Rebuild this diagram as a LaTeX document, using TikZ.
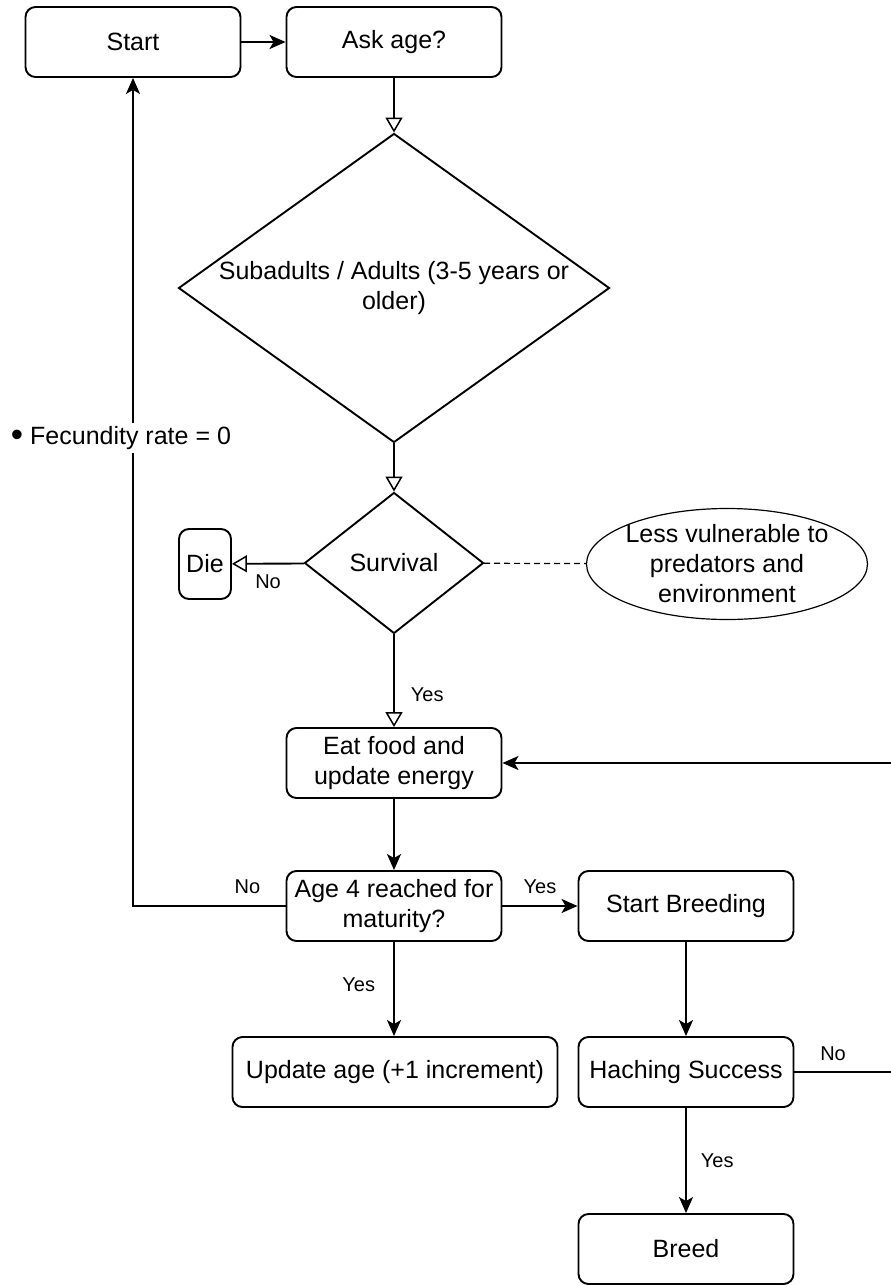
\documentclass[tikz,border=0pt]{standalone}
\usepackage{fontspec}
\setmainfont{Liberation Sans}
\usetikzlibrary{arrows.meta,shapes.geometric}

\tikzset{
  box/.style={draw,rounded corners=10pt,minimum width=215pt,minimum height=70pt,
    inner sep=4pt,align=center,font=\fontsize{25}{30}\selectfont},
  decision/.style={draw,diamond,inner sep=0pt,align=center,font=\fontsize{25}{30}\selectfont},
  note/.style={draw,ellipse,line width=1.2pt,minimum width=281pt,minimum height=111pt,
    inner sep=-4pt,align=center,font=\fontsize{25}{30}\selectfont},
  lbl/.style={inner sep=2pt,font=\fontsize{20}{23}\selectfont},
  arr/.style={-{Stealth[length=16pt,width=14pt,inset=4pt]}},
  oarr/.style={-{Triangle[open,length=15pt,width=17pt,line width=1.5pt]}}
}

\begin{document}
\begin{tikzpicture}[x=1pt,y=-1pt,line width=1.9pt]
        \useasboundingbox (0,0) rectangle (891,1285);

        \node[box] (start) at (133,42) {Start};
        \node[box] (ask) at (394,42) {Ask age?};
        \node[decision,shape aspect=1.39,minimum width=431pt,minimum height=309pt] (adult) at (394,288) {Subadults / Adults (3-5 years or\\older)};
        \node[decision,shape aspect=1.27,minimum width=179pt,minimum height=141pt] (surv) at (394,563) {Survival};
        \node[box,minimum width=52pt] (die) at (205,564) {Die};
        \node[note] (less) at (727,564) {Less vulnerable to\\predators and\\environment};
        \node[box] (eat) at (394,763) {Eat food and\\update energy};
        \node[box] (mature) at (394,906) {Age 4 reached for\\maturity?};
        \node[box] (breeding) at (686,906) {Start Breeding};
        \node[box,minimum width=325pt] (update) at (395,1072) {Update age (+1 increment)};
        \node[box] (hatch) at (686,1072) {Haching Success};
        \node[box] (breed) at (686,1249) {Breed};
        \coordinate (loopin) at (891,763);
        \coordinate (loopout) at (891,1072);

        \draw[arr] (start) -- (ask);
        \draw[oarr] (ask) -- (adult);
        \draw[oarr] (adult) -- (surv);
        \draw[oarr] (surv) -- node[lbl,below=8pt] {No} (die);
        \draw[dashed,line width=1.2pt,dash pattern=on 6pt off 4pt] (surv) -- (less);
        \draw[oarr] (surv) -- node[lbl,right=14pt,pos=0.65] {Yes} (eat);
        \draw[arr] (eat) -- (mature);
        \draw[arr] (mature) -| node[lbl,above=9pt,pos=0.125] {No} (start);
        \draw[arr] (mature) -- node[lbl,above=9pt] {Yes} (breeding);
        \draw[arr] (mature.south) -- node[lbl,left=16pt,pos=0.45] {Yes} (mature.south |- update.north);
        \draw[arr] (breeding) -- (hatch);
        \draw[arr] (hatch) -- node[lbl,right=12pt] {Yes} (breed);
        \draw (hatch) -- node[lbl,above=8pt,pos=0.4] {No} (loopout);
        \draw[arr] (loopin) -- (eat);

        \node[fill=white,inner sep=3pt,font=\fontsize{25}{30}\selectfont] (fecund) at (121,438) {\raisebox{-2.5pt}{\scalebox{1.4}{\textbullet}} Fecundity rate = 0};
      \end{tikzpicture}
\end{document}
